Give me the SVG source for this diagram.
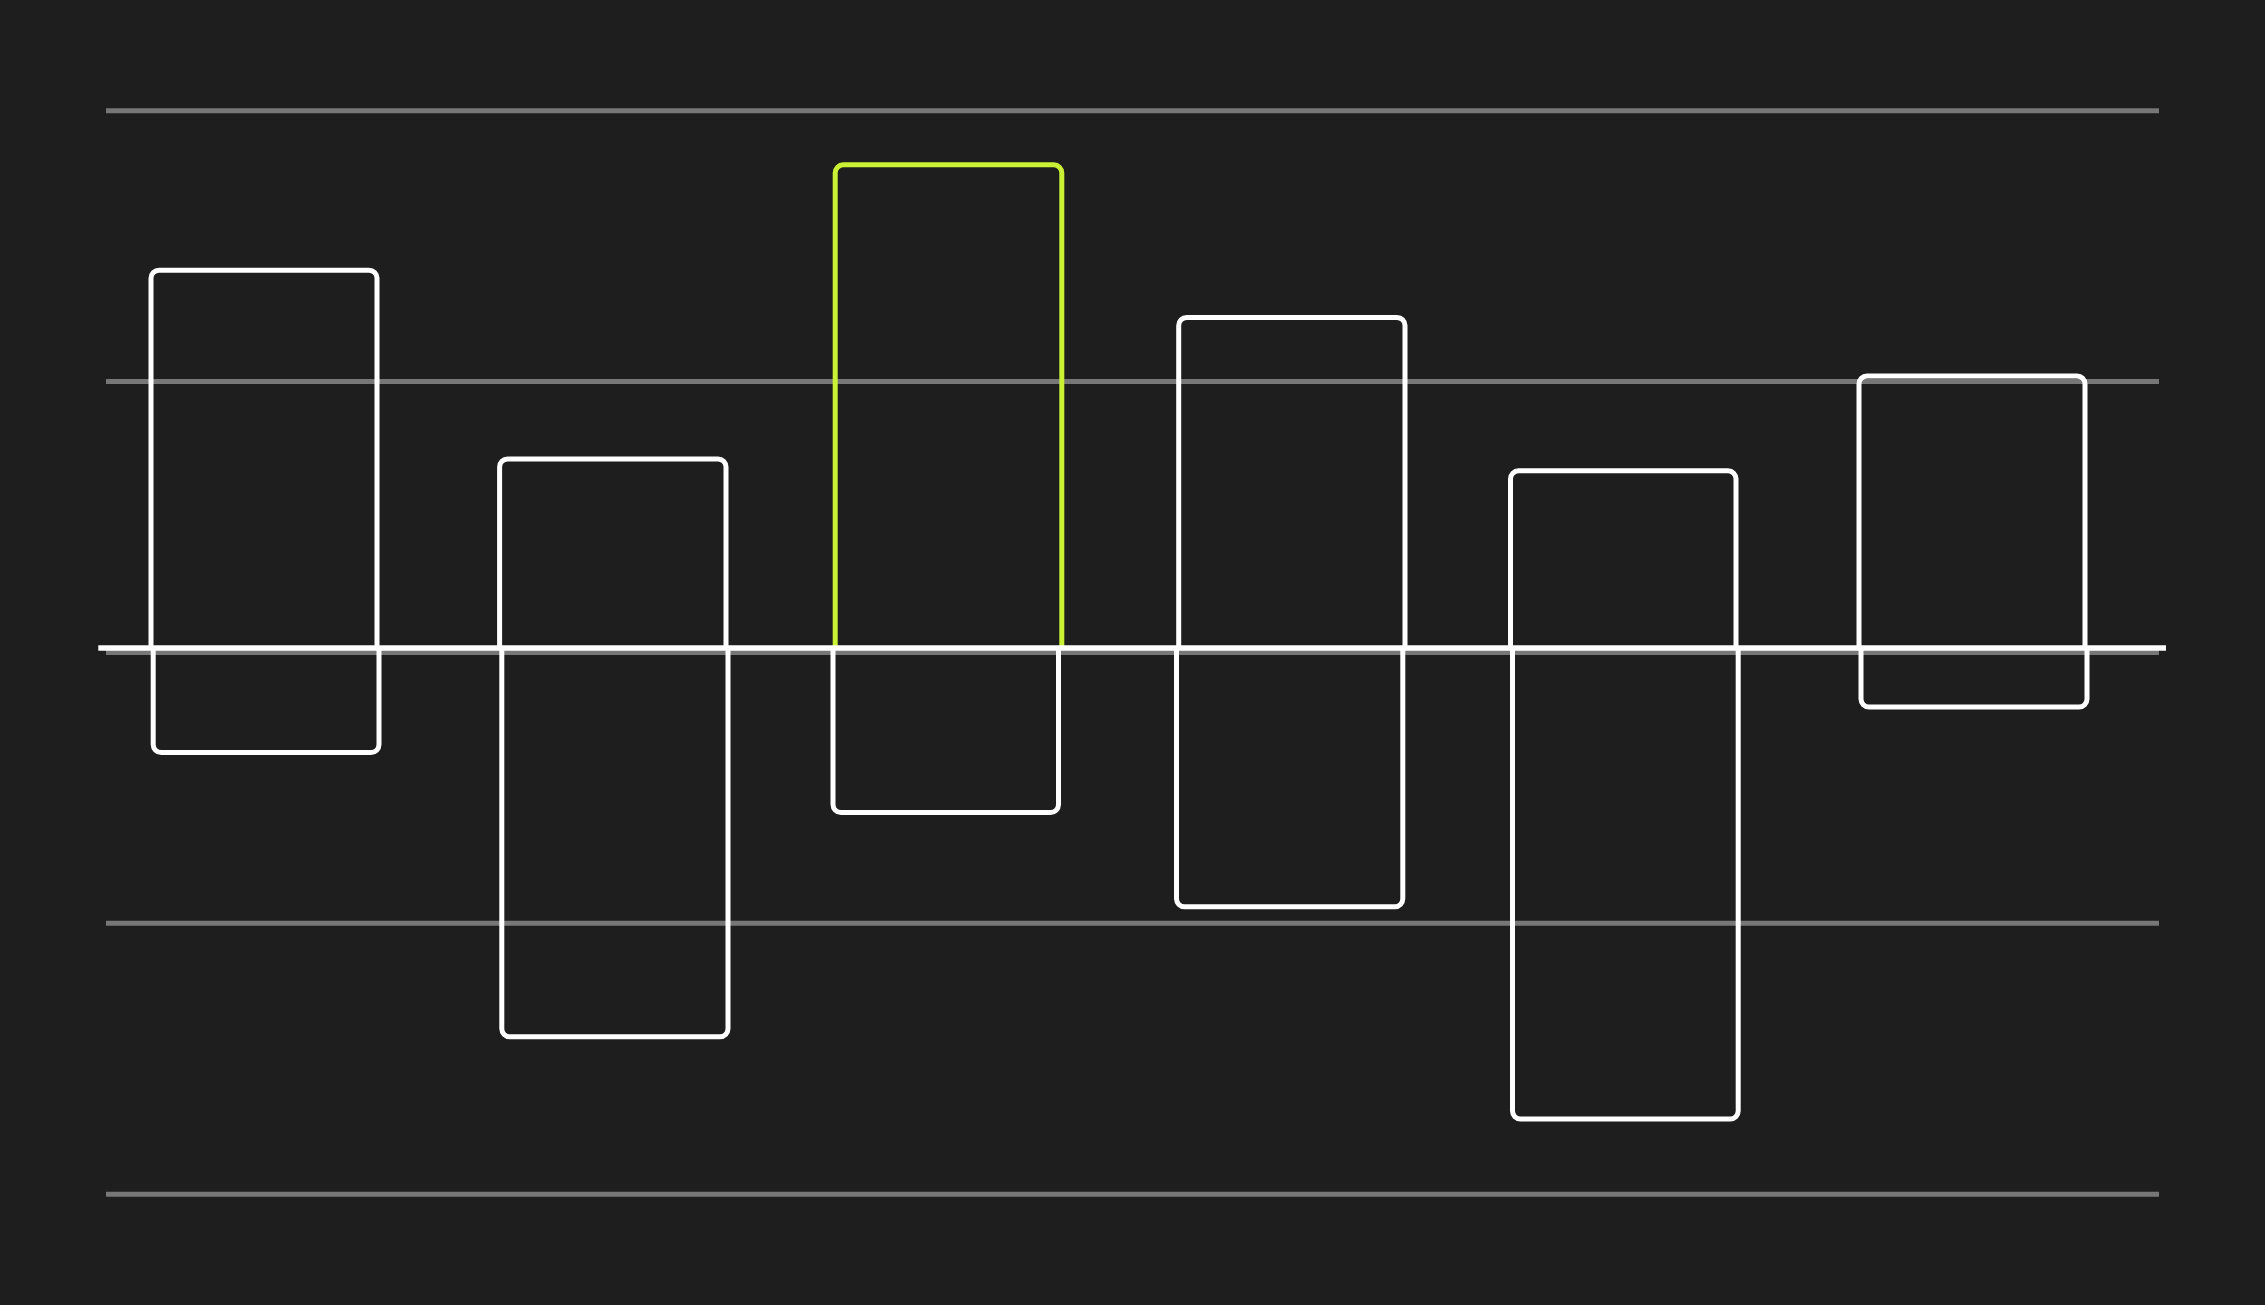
<svg xmlns="http://www.w3.org/2000/svg" width="2265" height="1305" viewBox="0 0 2265 1305">
  <style>
    .grid { stroke: #777777; stroke-width: 5; fill: none; }
    .axis { stroke: #ffffff; stroke-width: 5.5; fill: none; }
    .bar { stroke: #ffffff; stroke-width: 5; fill: none; stroke-linejoin: round; }
    .hl { stroke: #cbf135; }
  </style>
  <rect x="0" y="0" width="2265" height="1305" fill="#1e1e1e"/>
  <g id="gridlines">
    <line class="grid" x1="106" y1="110.8" x2="2159" y2="110.8"/>
    <line class="grid" x1="106" y1="381.4" x2="2159" y2="381.4"/>
    <line class="grid" x1="106" y1="652.4" x2="2159" y2="652.4"/>
    <line class="grid" x1="106" y1="923.3" x2="2159" y2="923.3"/>
    <line class="grid" x1="106" y1="1194.2" x2="2159" y2="1194.2"/>
  </g>
  <g id="bar1">
    <path class="bar" d="M151 648 V278.2 A8 8 0 0 1 159 270.2 H369 A8 8 0 0 1 377 278.2 V648"/>
    <path class="bar" d="M153.2 648 V744.6 A8 8 0 0 0 161.2 752.6 H371 A8 8 0 0 0 379 744.6 V648"/>
  </g>
  <g id="bar2">
    <path class="bar" d="M499.6 648 V467 A8 8 0 0 1 507.6 459 H718 A8 8 0 0 1 726 467 V648"/>
    <path class="bar" d="M501.8 648 V1028.8 A8 8 0 0 0 509.8 1036.8 H720 A8 8 0 0 0 728 1028.8 V648"/>
  </g>
  <g id="bar3">
    <path class="bar hl" d="M835.2 648 V172.8 A8 8 0 0 1 843.2 164.8 H1053.8 A8 8 0 0 1 1061.8 172.8 V648"/>
    <path class="bar" d="M833 648 V804.5 A8 8 0 0 0 841 812.5 H1050.5 A8 8 0 0 0 1058.5 804.5 V648"/>
  </g>
  <g id="bar4">
    <path class="bar" d="M1178.7 648 V325.5 A8 8 0 0 1 1186.7 317.5 H1397 A8 8 0 0 1 1405 325.5 V648"/>
    <path class="bar" d="M1176.5 648 V898.8 A8 8 0 0 0 1184.5 906.8 H1394.8 A8 8 0 0 0 1402.8 898.8 V648"/>
  </g>
  <g id="bar5">
    <path class="bar" d="M1510.5 648 V478.8 A8 8 0 0 1 1518.5 470.8 H1728 A8 8 0 0 1 1736 478.8 V648"/>
    <path class="bar" d="M1512.5 648 V1111 A8 8 0 0 0 1520.5 1119 H1730.2 A8 8 0 0 0 1738.2 1111 V648"/>
  </g>
  <g id="bar6">
    <path class="bar" d="M1859 648 V384 A8 8 0 0 1 1867 376 H2077 A8 8 0 0 1 2085 384 V648"/>
    <path class="bar" d="M1861 648 V699 A8 8 0 0 0 1869 707 H2079 A8 8 0 0 0 2087 699 V648"/>
  </g>
  <g id="connectors">
    <line id="axis" class="axis" x1="98.3" y1="648" x2="2166" y2="648"/>
  </g>
</svg>
